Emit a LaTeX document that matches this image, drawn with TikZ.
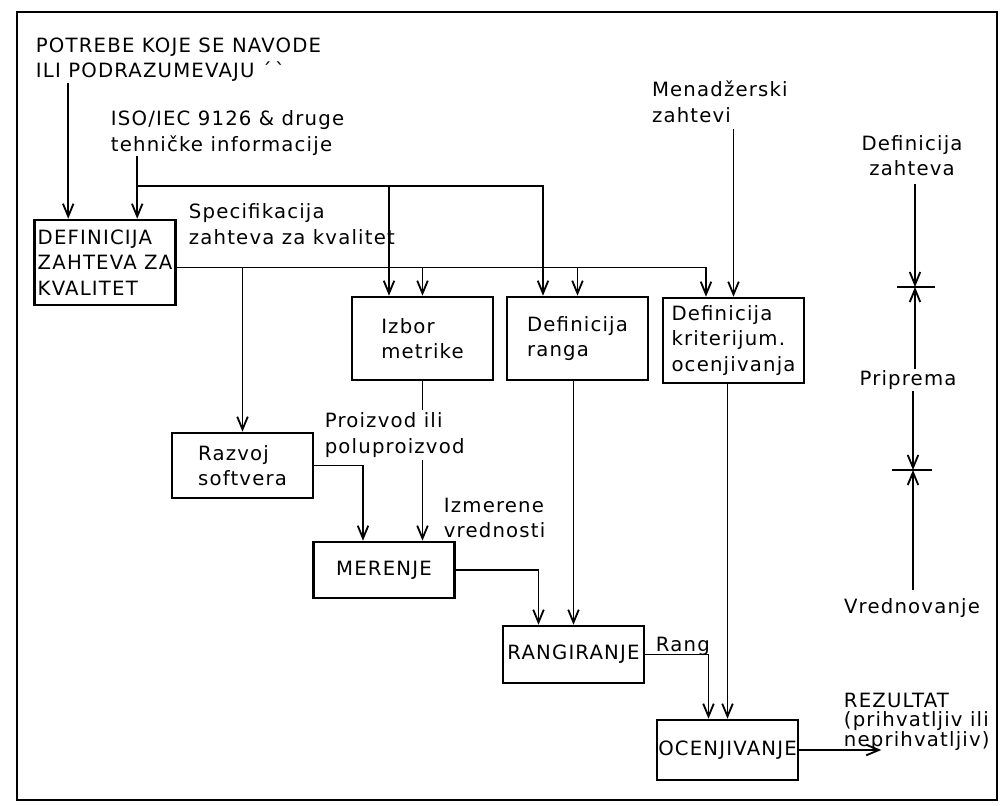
\documentclass[tikz,border=0pt]{standalone}
\usepackage{fontspec}
\setmainfont{DejaVu Sans}[LetterSpace=6]
\usetikzlibrary{arrows.meta, positioning, calc}
\tikzset{
  flowchart/.style={
	x=0.025cm, y=-0.025cm, % one unit per dot of the sheet, y counted downwards
	line width=1.3pt, % thin connector lines
	>={Straight Barb[length=9pt,width=7.5pt]}, % open arrow heads
	every node/.style={font=\fontsize{14}{18}\selectfont, inner sep=0pt}, % one size for all lettering
	process/.style={draw, line width=1.8pt, align=left, minimum width=3.525cm}, % the process boxes
	lettering/.style={align=left, anchor=north west}, % free text, placed by its top left corner
  }
}
\begin{document}
\begin{tikzpicture}[flowchart]
\useasboundingbox (0,0) rectangle (1002,805);
\draw[line width=1.4pt] (17,12) rectangle (997,800);

\node[process, minimum height=2.125cm] (dzk) at (105,262.5) {DEFINICIJA\\ZAHTEVA ZA\\KVALITET};
\node[process, minimum height=2.075cm] (izbor) at (422.5,338.5) {Izbor\\metrike};
\node[process, minimum height=2.075cm] (rang) at (577.5,338.5) {Definicija\\ranga};
\node[process, minimum height=2.125cm] (krit) at (733.5,340.5) {Definicija\\kriterijum.\\ocenjivanja};
\node[process, minimum height=1.625cm] (razvoj) at (242.5,465.5) {Razvoj\\softvera};
\node[process, minimum height=1.4cm] (merenje) at (384,570) {MERENJE};
\node[process, minimum height=1.425cm] (rangiranje) at (573.5,654.5) {RANGIRANJE};
\node[process, minimum height=1.5cm] (ocenj) at (727.5,750) {OCENJIVANJE};

\node[lettering] (potrebe) at (35,37) {POTREBE KOJE SE NAVODE\\ILI PODRAZUMEVAJU ´\,ˋ};
\node[lettering] (iso) at (110,110) {ISO/IEC 9126 \& druge\\tehničke informacije};
\node[lettering] (spec) at (188,203) {Specifikacija\\zahteva za kvalitet};
\node[lettering, outer sep=5pt] (men) at (645,74) {Menadžerski\\zahtevi};
\node[lettering, outer sep=2pt] (proizvod) at (322,410) {Proizvod ili\\poluproizvod};
\node[lettering] (izmerene) at (443,497) {Izmerene\\vrednosti};
\node[lettering] (rangtxt) at (655,636) {Rang};
\node[lettering, font=\fontsize{14}{14}\selectfont] (rezultat) at (843,692) {REZULTAT\\(prihvatljiv ili\\neprihvatljiv)};
\node[lettering, align=center, anchor=north, outer sep=6pt] (defz) at (912,127) {Definicija\\zahteva};
\node[outer sep=1pt] (priprema) at (908,380) {Priprema};
\node[anchor=north, outer sep=6pt] (vredn) at (912,590) {Vrednovanje};

\coordinate (in1) at ($(dzk.north west)+(35,0)$);
\coordinate (in2) at ($(dzk.north west)+(104,0)$);
\coordinate (isobus) at ($(in2)+(0,-33)$);
\coordinate (specbus) at ($(dzk.east)+(0,5)$);
\coordinate (i1) at ($(izbor.north)+(-33.5,0)$);
\coordinate (r1) at ($(rang.north)+(-34.5,0)$);
\coordinate (k1) at ($(krit.north)+(-27.5,0)$);
\coordinate (m1) at ($(merenje.north)+(-21,0)$);
\coordinate (g1) at ($(rangiranje.north)+(-35,0)$);
\coordinate (o1) at ($(ocenj.north)+(-19,0)$);
\coordinate (rez) at ($(ocenj.east)+(82,0)$);
\coordinate (t1) at (915,287);
\coordinate (t2) at (913,470);

\draw[->] (in1 |- potrebe.south) -- (in1);
\draw[->] (in2 |- iso.south) -- (in2);
\draw[->] (isobus) -| (r1);
\draw[->] (isobus -| i1) -- (i1);
\draw[->] (specbus) -| (k1);
\draw[->] (specbus -| razvoj.north) -- (razvoj.north);
\draw[->] (specbus -| izbor.north) -- (izbor.north);
\draw[->] (specbus -| rang.north) -- (rang.north);
\draw[->] (krit.north |- men.south) -- (krit.north);
\draw[->] (razvoj.east) -| (m1);
\draw (izbor.south) -- (izbor.south |- proizvod.north);
\draw[->] (izbor.south |- proizvod.south) -- (izbor.south |- merenje.north);
\draw[->] (merenje.east) -| (g1);
\draw[->] (rangiranje.north |- rang.south) -- (rangiranje.north);
\draw[->] (rangiranje.east) -| (o1);
\draw[->] (ocenj.north |- krit.south) -- (ocenj.north);
\draw[->] (ocenj.east) -- (rez);

\draw[->] (t1 |- defz.south) -- (t1);
\draw[->] (priprema.north -| t1) -- (t1);
\draw[->] (priprema.south -| t2) -- (t2);
\draw[->] (vredn.north -| t2) -- (t2);
\draw ($(t1)+(-18,0)$) -- ($(t1)+(20,0)$);
\draw ($(t2)+(-21,0)$) -- ($(t2)+(19,0)$);
\end{tikzpicture}
\end{document}
